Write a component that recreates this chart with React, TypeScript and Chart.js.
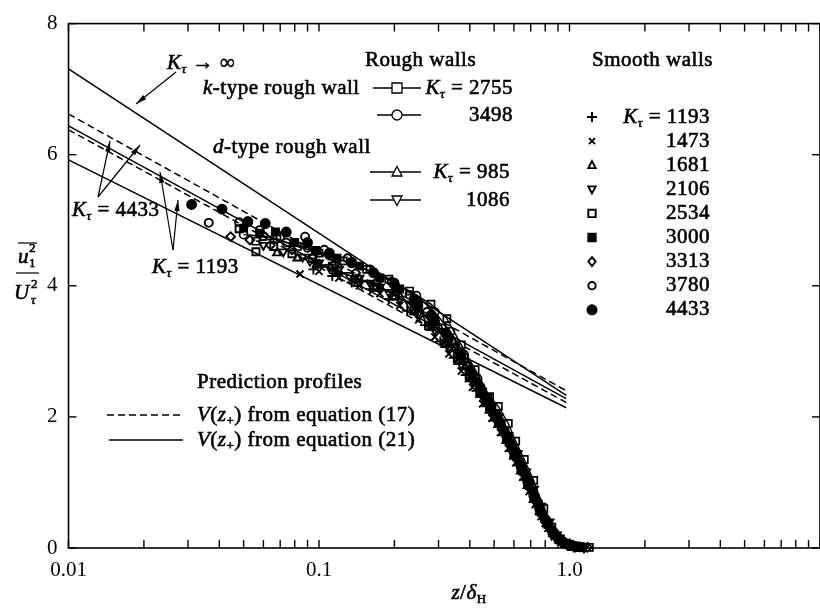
import React, { useEffect, useRef } from 'react';
import { Chart, registerables } from 'chart.js';

Chart.register(...registerables);

const FONT = "'Liberation Serif', 'Times New Roman', serif";

// ---------- axis ticks ----------
const xMajorTicks = [0.01, 0.1, 1, 10];
const xTickLabels = ['0.01', '0.1', '1.0', ''];
const xMinorTicks = [0.02, 0.03, 0.04, 0.05, 0.06, 0.07, 0.08, 0.09, 0.2, 0.3, 0.4, 0.5, 0.6, 0.7, 0.8, 0.9, 2, 3, 4, 5, 6, 7, 8, 9];
const yTicks = [0, 2, 4, 6, 8];

// ---------- prediction profiles (straight lines in log z) ----------
const predZ = [0.01, 0.97];
const predKInf = [7.31, 2.33];
const pred4433Eq17 = [6.62, 2.4];
const pred4433Eq21 = [6.44, 2.28];
const pred1193Eq17 = [6.38, 2.22];
const pred1193Eq21 = [5.92, 2.14];

// ---------- smooth walls ----------
const smooth1193: number[][] = [[0.095, 4.25], [0.113, 4.15], [0.135, 4.05], [0.16, 3.95], [0.19, 3.8], [0.225, 3.62], [0.265, 3.4], [0.305, 3.15], [0.345, 2.9], [0.385, 2.64], [0.425, 2.4], [0.465, 2.16], [0.505, 1.94], [0.545, 1.72], [0.585, 1.48], [0.625, 1.26], [0.665, 1.04], [0.705, 0.84], [0.745, 0.64], [0.79, 0.45], [0.84, 0.28], [0.9, 0.15], [0.96, 0.07], [1.02, 0.03], [1.1, 0.01]];
const smooth1473: number[][] = [[0.084, 4.18], [0.1, 4.22], [0.12, 4.12], [0.145, 4.0], [0.175, 3.88], [0.21, 3.7], [0.25, 3.48], [0.29, 3.22], [0.33, 2.96], [0.37, 2.7], [0.41, 2.45], [0.45, 2.2], [0.49, 1.98], [0.53, 1.76], [0.57, 1.52], [0.61, 1.3], [0.65, 1.08], [0.69, 0.86], [0.73, 0.66], [0.77, 0.48], [0.82, 0.3], [0.87, 0.17], [0.93, 0.09], [1.0, 0.04], [1.08, 0.02]];
const smooth1681: number[][] = [[0.068, 4.5], [0.082, 4.42], [0.098, 4.32], [0.118, 4.2], [0.14, 4.1], [0.168, 3.96], [0.2, 3.82], [0.24, 3.6], [0.28, 3.36], [0.32, 3.1], [0.36, 2.84], [0.4, 2.58], [0.44, 2.34], [0.48, 2.1], [0.52, 1.88], [0.56, 1.64], [0.6, 1.4], [0.64, 1.17], [0.68, 0.95], [0.72, 0.74], [0.76, 0.55], [0.81, 0.37], [0.86, 0.22], [0.91, 0.12], [0.97, 0.06], [1.04, 0.02]];
const smooth2106: number[][] = [[0.06, 4.62], [0.072, 4.52], [0.086, 4.44], [0.1, 4.35], [0.12, 4.25], [0.145, 4.12], [0.175, 3.98], [0.21, 3.8], [0.25, 3.58], [0.29, 3.32], [0.33, 3.05], [0.37, 2.8], [0.41, 2.54], [0.45, 2.3], [0.49, 2.06], [0.53, 1.84], [0.57, 1.6], [0.61, 1.38], [0.65, 1.15], [0.69, 0.93], [0.73, 0.72], [0.77, 0.53], [0.82, 0.35], [0.87, 0.2], [0.92, 0.11], [0.98, 0.05], [1.05, 0.02], [1.15, 0.01]];
const smooth2534: number[][] = [[0.048, 4.87], [0.056, 4.52], [0.066, 4.6], [0.078, 4.49], [0.094, 4.42], [0.113, 4.3], [0.143, 4.05], [0.17, 3.98], [0.2, 3.85], [0.24, 3.64], [0.28, 3.4], [0.32, 3.12], [0.36, 2.86], [0.4, 2.6], [0.44, 2.36], [0.48, 2.12], [0.52, 1.9], [0.56, 1.66], [0.6, 1.42], [0.64, 1.2], [0.68, 0.98], [0.72, 0.76], [0.76, 0.57], [0.81, 0.38], [0.86, 0.23], [0.91, 0.13], [0.96, 0.07], [1.02, 0.03], [1.12, 0.01]];
const smooth3000: number[][] = [[0.05, 4.88], [0.058, 4.8], [0.067, 4.82], [0.08, 4.66], [0.097, 4.54], [0.118, 4.42], [0.145, 4.3], [0.175, 4.12], [0.21, 3.95], [0.25, 3.72], [0.29, 3.47], [0.33, 3.2], [0.37, 2.92], [0.41, 2.64], [0.45, 2.38], [0.49, 2.14], [0.53, 1.9], [0.57, 1.66], [0.61, 1.42], [0.65, 1.18], [0.69, 0.96], [0.73, 0.75], [0.77, 0.55], [0.82, 0.36], [0.87, 0.21], [0.92, 0.12], [0.97, 0.06], [1.03, 0.03], [1.1, 0.01]];
const smooth3313: number[][] = [[0.0444, 4.75], [0.053, 4.7], [0.064, 4.62], [0.078, 4.55], [0.095, 4.45], [0.115, 4.33], [0.14, 4.2], [0.17, 4.06], [0.205, 3.9], [0.245, 3.68], [0.285, 3.42], [0.325, 3.15], [0.345, 3.13], [0.38, 2.85], [0.42, 2.55], [0.46, 2.3], [0.5, 2.06], [0.54, 1.82], [0.58, 1.58], [0.62, 1.35], [0.66, 1.12], [0.7, 0.9], [0.74, 0.7], [0.78, 0.5], [0.83, 0.32], [0.88, 0.19], [0.93, 0.1], [0.98, 0.05], [1.04, 0.02], [1.18, 0.01]];
const smooth3780: number[][] = [[0.0363, 4.96], [0.048, 4.97], [0.058, 4.85], [0.07, 4.74], [0.088, 4.75], [0.105, 4.55], [0.13, 4.42], [0.16, 4.25], [0.195, 4.06], [0.23, 3.86], [0.27, 3.6], [0.31, 3.35], [0.35, 3.06], [0.39, 2.78], [0.43, 2.52], [0.47, 2.28], [0.51, 2.04], [0.55, 1.8], [0.59, 1.56], [0.63, 1.32], [0.67, 1.1], [0.71, 0.88], [0.75, 0.66], [0.79, 0.48], [0.84, 0.3], [0.89, 0.17], [0.94, 0.09], [1.0, 0.05], [1.08, 0.02]];
const smooth4433: number[][] = [[0.031, 5.24], [0.041, 5.17], [0.052, 4.98], [0.061, 4.95], [0.074, 4.82], [0.09, 4.66], [0.11, 4.5], [0.135, 4.36], [0.165, 4.2], [0.2, 4.02], [0.24, 3.8], [0.28, 3.55], [0.32, 3.28], [0.36, 3.0], [0.4, 2.72], [0.44, 2.45], [0.48, 2.2], [0.52, 1.95], [0.56, 1.72], [0.6, 1.48], [0.64, 1.25], [0.68, 1.02], [0.72, 0.8], [0.76, 0.6], [0.8, 0.43], [0.85, 0.27], [0.9, 0.15], [0.95, 0.08], [1.0, 0.04], [1.06, 0.02]];

// ---------- rough walls ----------
const roughK2755: number[][] = [[0.056, 4.68], [0.068, 4.72], [0.082, 4.6], [0.1, 4.5], [0.125, 4.38], [0.155, 4.25], [0.19, 4.1], [0.23, 3.92], [0.28, 3.72], [0.324, 3.5], [0.37, 3.1], [0.42, 2.72], [0.48, 2.31], [0.52, 2.16], [0.57, 1.9], [0.61, 1.63], [0.66, 1.35], [0.72, 1.03], [0.79, 0.6], [0.85, 0.32], [0.92, 0.14], [1.0, 0.06], [1.1, 0.02], [1.2, 0.01]];
const roughK3498: number[][] = [[0.05, 4.78], [0.06, 4.76], [0.074, 4.66], [0.09, 4.58], [0.11, 4.46], [0.135, 4.34], [0.165, 4.2], [0.2, 4.05], [0.245, 3.85], [0.29, 3.6], [0.335, 3.3], [0.38, 2.95], [0.43, 2.58], [0.48, 2.22], [0.53, 1.92], [0.58, 1.62], [0.63, 1.32], [0.69, 1.0], [0.75, 0.7], [0.81, 0.42], [0.88, 0.2], [0.95, 0.09], [1.03, 0.04], [1.12, 0.01]];
const roughD985: number[][] = [[0.1, 4.32], [0.12, 4.22], [0.145, 4.1], [0.175, 3.98], [0.21, 3.84], [0.25, 3.64], [0.3, 3.38], [0.35, 3.05], [0.4, 2.7], [0.45, 2.38], [0.5, 2.08], [0.55, 1.8], [0.6, 1.5], [0.65, 1.22], [0.7, 0.94], [0.75, 0.68], [0.8, 0.44], [0.86, 0.25], [0.93, 0.11], [1.0, 0.05], [1.1, 0.01]];
const roughD1086: number[][] = [[0.092, 4.38], [0.11, 4.28], [0.132, 4.16], [0.16, 4.04], [0.19, 3.9], [0.23, 3.72], [0.27, 3.5], [0.32, 3.22], [0.37, 2.92], [0.42, 2.6], [0.47, 2.3], [0.52, 2.0], [0.57, 1.72], [0.62, 1.44], [0.67, 1.16], [0.72, 0.9], [0.77, 0.64], [0.83, 0.4], [0.89, 0.2], [0.96, 0.09], [1.04, 0.03], [1.14, 0.01]];

// legend text values
const smoothLabels = ['1193', '1473', '1681', '2106', '2534', '3000', '3313', '3780', '4433'];
const smoothStyles = ['cross', 'crossRot', 'triangle', 'triangleDown', 'rect', 'rectFilled', 'rectRot', 'circle', 'circleFilled'];

const toPts = (a: number[][]) => a.map(([x, y]) => ({ x, y }));
const lineData = (ys: number[]) => predZ.map((z, i) => ({ x: z, y: ys[i] }));

type Seg = { t: string; i?: boolean; sub?: boolean; sup?: boolean };

function segFont(s: Seg, size: number) {
  const sz = s.sub || s.sup ? Math.round(size * 0.62) : size;
  return `${s.i ? 'italic ' : ''}${sz}px ${FONT}`;
}

function drawRich(ctx: CanvasRenderingContext2D, segs: Seg[], x: number, y: number, align: string, size = 21) {
  let w = 0;
  for (const s of segs) {
    ctx.font = segFont(s, size);
    w += ctx.measureText(s.t).width;
  }
  let cx = align === 'left' ? x : align === 'right' ? x - w : x - w / 2;
  ctx.textAlign = 'left';
  ctx.textBaseline = 'middle';
  const lw = ctx.lineWidth;
  ctx.lineWidth = 0.6;
  for (const s of segs) {
    ctx.font = segFont(s, size);
    const dy = s.sub ? size * 0.32 : s.sup ? -size * 0.38 : 0;
    ctx.fillText(s.t, cx, y + dy);
    ctx.strokeText(s.t, cx, y + dy);
    cx += ctx.measureText(s.t).width;
  }
  ctx.lineWidth = lw;
}

function drawMarker(ctx: CanvasRenderingContext2D, style: string, x: number, y: number, r: number) {
  ctx.beginPath();
  let filled = false;
  switch (style) {
    case 'circle':
    case 'circleFilled':
      ctx.arc(x, y, r, 0, Math.PI * 2);
      filled = style === 'circleFilled';
      break;
    case 'rect':
    case 'rectFilled':
      ctx.rect(x - r, y - r, 2 * r, 2 * r);
      filled = style === 'rectFilled';
      break;
    case 'rectRot':
      ctx.moveTo(x, y - r * 1.2);
      ctx.lineTo(x + r, y);
      ctx.lineTo(x, y + r * 1.2);
      ctx.lineTo(x - r, y);
      ctx.closePath();
      break;
    case 'triangle':
      ctx.moveTo(x, y - r * 1.1);
      ctx.lineTo(x + r, y + r * 0.8);
      ctx.lineTo(x - r, y + r * 0.8);
      ctx.closePath();
      break;
    case 'triangleDown':
      ctx.moveTo(x, y + r * 1.1);
      ctx.lineTo(x + r, y - r * 0.8);
      ctx.lineTo(x - r, y - r * 0.8);
      ctx.closePath();
      break;
    case 'cross':
      ctx.moveTo(x - r, y);
      ctx.lineTo(x + r, y);
      ctx.moveTo(x, y - r);
      ctx.lineTo(x, y + r);
      ctx.stroke();
      return;
    case 'crossRot':
      ctx.moveTo(x - r * 0.8, y - r * 0.8);
      ctx.lineTo(x + r * 0.8, y + r * 0.8);
      ctx.moveTo(x + r * 0.8, y - r * 0.8);
      ctx.lineTo(x - r * 0.8, y + r * 0.8);
      ctx.stroke();
      return;
  }
  ctx.fillStyle = filled ? '#000' : '#fff';
  ctx.fill();
  ctx.stroke();
  ctx.fillStyle = '#000';
}

function drawArrow(ctx: CanvasRenderingContext2D, x1: number, y1: number, x2: number, y2: number) {
  ctx.beginPath();
  ctx.moveTo(x1, y1);
  ctx.lineTo(x2, y2);
  ctx.stroke();
  const a = Math.atan2(y2 - y1, x2 - x1);
  const L = 11, W = 2.6;
  ctx.beginPath();
  ctx.moveTo(x2, y2);
  ctx.lineTo(x2 - L * Math.cos(a) + W * Math.sin(a), y2 - L * Math.sin(a) - W * Math.cos(a));
  ctx.lineTo(x2 - L * Math.cos(a) - W * Math.sin(a), y2 - L * Math.sin(a) + W * Math.cos(a));
  ctx.closePath();
  ctx.fill();
}

const overlayPlugin = {
  id: 'overlay',
  afterDraw(chart: any) {
    const { ctx, chartArea: ca, scales } = chart;
    const xs = scales.x;
    const ys = scales.y;
    ctx.save();
    ctx.strokeStyle = '#000';
    ctx.fillStyle = '#000';
    // frame
    ctx.lineWidth = 1.6;
    ctx.strokeRect(ca.left, ca.top, ca.right - ca.left, ca.bottom - ca.top);
    // inward ticks
    ctx.lineWidth = 1.4;
    const seg = (a: number, b: number, c: number, d: number) => {
      ctx.beginPath();
      ctx.moveTo(a, b);
      ctx.lineTo(c, d);
      ctx.stroke();
    };
    for (const v of [...xMajorTicks, ...xMinorTicks]) {
      const px = xs.getPixelForValue(v);
      seg(px, ca.bottom, px, ca.bottom - 8);
      seg(px, ca.top, px, ca.top + 8);
    }
    for (const v of yTicks) {
      const py = ys.getPixelForValue(v);
      seg(ca.left, py, ca.left + 8, py);
      seg(ca.right, py, ca.right - 8, py);
    }

    ctx.letterSpacing = '0.5px';
    const K: Seg[] = [{ t: 'K', i: true }, { t: 'τ', i: true, sub: true }];

    // ---- Rough walls legend ----
    drawRich(ctx, [{ t: 'Rough walls' }], 365, 60, 'left');
    drawRich(ctx, [{ t: 'k', i: true }, { t: '-type rough wall' }], 203, 88, 'left');
    drawRich(ctx, [...K, { t: ' = 2755' }], 513, 88, 'right');
    drawRich(ctx, [{ t: '3498' }], 513, 115, 'right');
    drawRich(ctx, [{ t: 'd', i: true }, { t: '-type rough wall' }], 213, 147, 'left');
    drawRich(ctx, [...K, { t: ' = 985' }], 510, 172, 'right');
    drawRich(ctx, [{ t: '1086' }], 510, 200, 'right');
    ctx.lineWidth = 1.3;
    const roughRows: [string, number, number][] = [['rect', 88, 373], ['circle', 115, 377], ['triangle', 172, 370], ['triangleDown', 200, 370]];
    for (const [st, yy, x0] of roughRows) {
      seg(x0, yy, 421, yy);
      drawMarker(ctx, st, 397, yy, 5);
    }

    // ---- Smooth walls legend ----
    drawRich(ctx, [{ t: 'Smooth walls' }], 592, 60, 'left');
    ctx.lineWidth = 1.9;
    smoothLabels.forEach((lab, i) => {
      const yy = 117 + i * 24.1;
      const st = smoothStyles[i];
      drawMarker(ctx, st, 592, yy, st === 'circleFilled' ? 4.6 : st === 'cross' ? 5 : 3.7);
      drawRich(ctx, i === 0 ? [...K, { t: ' = ' + lab }] : [{ t: lab }], 710, yy, 'right');
    });

    // ---- prediction profiles legend ----
    drawRich(ctx, [{ t: 'Prediction profiles' }], 197, 382, 'left');
    ctx.lineWidth = 1.5;
    ctx.setLineDash([7, 4]);
    seg(107, 415, 183, 415);
    ctx.setLineDash([]);
    seg(109, 440, 183, 440);
    const V: Seg[] = [{ t: 'V', i: true }, { t: '(' }, { t: 'z', i: true }, { t: '+', sub: true }, { t: ')' }];
    drawRich(ctx, [...V, { t: ' from equation (17)' }], 197, 415, 'left');
    drawRich(ctx, [...V, { t: ' from equation (21)' }], 197, 440, 'left');

    // ---- annotations ----
    drawRich(ctx, [...K, { t: ' → ∞' }], 167, 63, 'left');
    drawRich(ctx, [...K, { t: ' = 4433' }], 72, 210, 'left');
    drawRich(ctx, [...K, { t: ' = 1193' }], 152, 267, 'left');
    ctx.lineWidth = 1.2;
    drawArrow(ctx, 176, 72, 136, 104);
    drawArrow(ctx, 98, 197, 110, 141);
    drawArrow(ctx, 98, 197, 140, 145);
    drawArrow(ctx, 173, 250, 160, 172);
    drawArrow(ctx, 173, 250, 178, 200);

    // ---- axis titles ----
    ctx.textBaseline = 'middle';
    ctx.textAlign = 'left';
    ctx.lineWidth = 0.6;
    const txt = (t: string, f: string, x: number, y: number) => {
      ctx.font = f;
      ctx.fillText(t, x, y);
      ctx.strokeText(t, x, y);
    };
    txt('u', `italic 21px ${FONT}`, 18, 257);
    txt('2', `13px ${FONT}`, 29, 249);
    txt('1', `13px ${FONT}`, 29, 264);
    ctx.lineWidth = 1.2;
    seg(18, 243, 37, 243);
    seg(16, 273, 39, 273);
    ctx.lineWidth = 0.6;
    txt('U', `italic 21px ${FONT}`, 14, 293);
    txt('τ', `italic 13px ${FONT}`, 31, 301);
    txt('2', `13px ${FONT}`, 31, 285);
    drawRich(ctx, [{ t: 'z', i: true }, { t: '/' }, { t: 'δ', i: true }, { t: 'H', sub: true }], 469, 593, 'center');
    ctx.restore();
  },
};

export default function App() {
  const ref = useRef<HTMLCanvasElement | null>(null);
  useEffect(() => {
    if (!ref.current) return;
    const black = '#000';
    const clear = 'rgba(255,255,255,0)';
    const smoothSet = (data: number[][], style: string, r: number, filled: boolean, rotation = 0) => ({
      type: 'scatter' as const,
      data: toPts(data),
      showLine: false,
      pointStyle: style,
      pointRadius: r,
      pointRotation: rotation,
      pointBorderWidth: 1.9,
      borderColor: black,
      backgroundColor: filled ? black : clear,
      pointBackgroundColor: filled ? black : clear,
      pointBorderColor: black,
      clip: false,
    });
    const roughSet = (data: number[][], style: string, r: number, rotation = 0) => ({
      type: 'line' as const,
      data: toPts(data),
      showLine: true,
      borderWidth: 1.4,
      borderColor: black,
      pointStyle: style,
      pointRadius: r,
      pointRotation: rotation,
      pointBorderWidth: 1.7,
      pointBackgroundColor: clear,
      pointBorderColor: black,
      tension: 0,
      clip: false,
    });
    const predSet = (ys: number[], dashed: boolean) => ({
      type: 'line' as const,
      data: lineData(ys),
      borderColor: black,
      borderWidth: 1.5,
      borderDash: dashed ? [7, 4] : [],
      pointRadius: 0,
      tension: 0,
    });
    const chart = new Chart(ref.current, {
      type: 'scatter',
      data: {
        datasets: [
          predSet(predKInf, false),
          predSet(pred4433Eq17, true),
          predSet(pred4433Eq21, false),
          predSet(pred1193Eq17, true),
          predSet(pred1193Eq21, false),
          roughSet(roughK2755, 'rect', 5),
          roughSet(roughK3498, 'circle', 4),
          roughSet(roughD985, 'triangle', 5),
          roughSet(roughD1086, 'triangle', 5, 180),
          smoothSet(smooth1193, 'cross', 5, false),
          smoothSet(smooth1473, 'crossRot', 5, false),
          smoothSet(smooth1681, 'triangle', 4.6, false),
          smoothSet(smooth2106, 'triangle', 4.6, false, 180),
          smoothSet(smooth2534, 'rect', 5, false),
          smoothSet(smooth3000, 'rect', 5, true),
          smoothSet(smooth3313, 'rectRot', 4.4, false),
          smoothSet(smooth3780, 'circle', 4, false),
          smoothSet(smooth4433, 'circle', 4.5, true),
        ] as any,
      },
      options: {
        animation: false,
        responsive: false,
        maintainAspectRatio: false,
        events: [],
        layout: { padding: { top: 13, right: 4, left: 0, bottom: 0 } },
        plugins: { legend: { display: false }, tooltip: { enabled: false } },
        scales: {
          x: {
            type: 'logarithmic',
            min: 0.01,
            max: 10,
            position: 'bottom',
            grid: { display: false, drawTicks: false },
            border: { display: false },
            afterBuildTicks: (s: any) => {
              s.ticks = xMajorTicks.map((v) => ({ value: v }));
            },
            afterFit: (s: any) => {
              s.height = 60;
            },
            ticks: {
              autoSkip: false,
              maxRotation: 0,
              padding: 10,
              color: '#000',
              font: { family: FONT, size: 21 },
              callback: (v: any) => {
                const idx = xMajorTicks.findIndex((m) => Math.abs(m - Number(v)) < 1e-9);
                return idx >= 0 ? xTickLabels[idx] : '';
              },
            },
          },
          y: {
            type: 'linear',
            min: 0,
            max: 8,
            grid: { display: false, drawTicks: false },
            border: { display: false },
            afterBuildTicks: (s: any) => {
              s.ticks = yTicks.map((v) => ({ value: v }));
            },
            afterFit: (s: any) => {
              s.width = 68.5;
            },
            ticks: {
              padding: 11,
              color: '#000',
              font: { family: FONT, size: 21 },
              callback: (v: any) => String(v),
            },
          },
        },
      } as any,
      plugins: [overlayPlugin],
    });
    return () => chart.destroy();
  }, []);

  return (
    <div style={{ position: 'fixed', left: 0, top: 0, width: 820, height: 608, overflow: 'hidden', background: '#fff' }}>
      <canvas ref={ref} width={830} height={608} style={{ display: 'block', width: 830, height: 608 }} />
    </div>
  );
}
